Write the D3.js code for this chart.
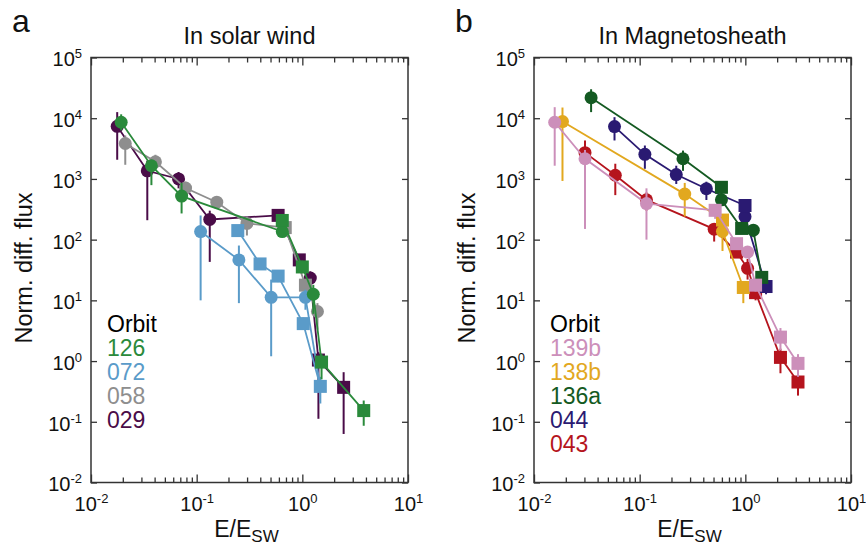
<!DOCTYPE html>
<html>
<head>
<meta charset="utf-8">
<script src="https://cdn.jsdelivr.net/npm/d3@7"></script>
<style>
  body { margin: 0; background: #fff; }
  svg text { font-family: "Liberation Sans", Arial, Helvetica, sans-serif; }
</style>
</head>
<body>
<div id="chart"></div>
<script>
// each point: [E/Esw, flux, err low, err high, marker]  ("o" circle, "s" square, "" none)

// ---- panel a : in solar wind
const o126 = [
  [0.0193, 8580, 6300, 11600, "o"],
  [0.0373, 1650, 790, 2070, "o"],
  [0.072, 521, 270, 860, "o"],
  [0.646, 136, 110, 170, "o"],
  [0.646, 207, 170, 250, "s"],
  [1.0, 35.5, 28, 45, "s"],
  [1.27, 12.6, 6, 18, "o"],
  [1.52, 0.962, 0.5, 1.3, "s"],
  [3.81, 0.153, 0.086, 0.224, "s"]
];
const o072c = [
  [0.109, 136, 10, 250, "o"],
  [0.251, 46.4, 9, 80, "o"],
  [0.507, 11.2, 1.2, 22, "o"],
  [1.07, 11.2, 7, 15, "o"],
  [1.48, 0.383, 0.2, 0.55, ""]
];
const o072s = [
  [0.245, 141, 115, 170, "s"],
  [0.398, 39.8, 32, 48, "s"],
  [0.590, 25.1, 20, 31, "s"],
  [1.02, 4.14, 3.3, 5.2, "s"],
  [1.48, 0.383, 0.2, 0.55, "s"]
];
const o058 = [
  [0.0211, 3830, 1710, 5200, "o"],
  [0.0407, 1920, 1500, 2500, "o"],
  [0.0785, 708, 560, 900, "o"],
  [0.155, 414, 330, 520, "o"],
  [0.299, 185, 117, 240, "o"],
  [0.689, 158, 130, 190, "s"],
  [1.07, 17.8, 14, 22, "s"],
  [1.39, 6.56, 3.3, 9, "o"]
];
const o029 = [
  [0.0177, 7360, 2070, 12600, "o"],
  [0.0341, 1360, 209, 2000, "o"],
  [0.0674, 1000, 700, 1300, "o"],
  [0.133, 215, 43, 300, "o"],
  [0.590, 251, 200, 300, "s"],
  [0.936, 46.4, 37, 58, "s"],
  [1.19, 23.3, 18, 30, "o"],
  [1.42, 1.04, 0.112, 1.4, "s"],
  [2.46, 0.369, 0.063, 0.656, "s"]
];

// ---- panel b : in magnetosheath
const o139b = [
  [0.0157, 8580, 1650, 15200, "o"],
  [0.0304, 2150, 150, 3000, "o"],
  [0.116, 393, 100, 700, "o"],
  [0.518, 304, 220, 380, "s"],
  [0.826, 85.8, 70, 105, "s"],
  [1.05, 62.4, 50, 75, "o"],
  [1.25, 17.8, 14, 22, "s"],
  [2.15, 2.48, 1.5, 3.5, "s"],
  [3.15, 0.916, 0.55, 1.3, "s"]
];
const o138b = [
  [0.0186, 8810, 926, 15000, "o"],
  [0.267, 562, 240, 860, "o"],
  [0.608, 210, 170, 260, "s"],
  [0.608, 137, 65, 180, "o"],
  [0.957, 16.3, 9, 20, "s"]
];
const o136a = [
  [0.0347, 21800, 12600, 30000, "o"],
  [0.257, 2150, 1360, 2930, "o"],
  [0.594, 728, 560, 900, "s"],
  [0.594, 452, 370, 550, "o"],
  [0.923, 153, 125, 185, "s"],
  [1.19, 143, 110, 180, "o"],
  [1.43, 23.9, 19, 30, "s"]
];
const o044 = [
  [0.0578, 7280, 4300, 10400, "o"],
  [0.112, 2540, 1470, 3550, "o"],
  [0.222, 1180, 826, 1650, "o"],
  [0.428, 689, 450, 900, "o"],
  [0.993, 365, 290, 440, "s"],
  [0.993, 239, 190, 300, "o"],
  [1.57, 16.9, 12.6, 22, "s"]
];
const o043 = [
  [0.0304, 2710, 1650, 4300, "o"],
  [0.0588, 1150, 541, 1780, "o"],
  [0.116, 452, 300, 600, "o"],
  [0.507, 149, 93, 185, "o"],
  [0.826, 62.4, 50, 75, "s"],
  [1.05, 33.7, 22, 48, "o"],
  [1.25, 13.4, 10, 17, "s"],
  [2.15, 1.15, 0.63, 1.6, "s"],
  [3.15, 0.452, 0.27, 0.7, "s"]
];

const orbitsA = [
  { name: "126", color: "#2a8a3b", traces: [o126] },
  { name: "072", color: "#5a9bc9", traces: [o072c, o072s] },
  { name: "058", color: "#8e8e8e", traces: [o058] },
  { name: "029", color: "#4a0c48", traces: [o029] }
];
const orbitsB = [
  { name: "139b", color: "#cc8fba", traces: [o139b] },
  { name: "138b", color: "#e2a81f", traces: [o138b] },
  { name: "136a", color: "#145a22", traces: [o136a] },
  { name: "044", color: "#2a1a72", traces: [o044] },
  { name: "043", color: "#b5141d", traces: [o043] }
];

const xMajor = [0.01, 0.1, 1, 10];
const xMinor = [];
[0.01, 0.1, 1].forEach(d => { for (let k = 2; k <= 9; k++) xMinor.push(k * d); });
const yMajor = [0.01, 0.1, 1, 10, 100, 1000, 1e4, 1e5];

const W = 317, H = 425, TOP = 57.5;
const axisColor = "#333";

const svg = d3.select("#chart").append("svg")
  .attr("width", 866)
  .attr("height", 550);

function powLabel(sel) {
  sel.each(function (d) {
    const t = d3.select(this);
    const e = Math.round(Math.log10(d));
    t.text(null);
    t.append("tspan").text("10");
    t.append("tspan").attr("font-size", 13).attr("dy", -8).text(e);
  });
}

function drawPanel(left, letter, title, orbits) {
  const g = svg.append("g").attr("transform", `translate(${left},${TOP})`);

  const x = d3.scaleLog().domain([0.01, 10]).range([0, W]);
  const y = d3.scaleLog().domain([0.01, 1e5]).range([H, 0]);

  // minor ticks top and bottom
  g.append("g").attr("transform", `translate(0,${H})`)
    .call(d3.axisBottom(x).tickValues(xMinor).tickSize(-5).tickSizeOuter(0).tickFormat(""));
  g.append("g")
    .call(d3.axisTop(x).tickValues(xMinor).tickSize(-5).tickSizeOuter(0).tickFormat(""));
  g.append("g")
    .call(d3.axisTop(x).tickValues(xMajor).tickSize(-8).tickSizeOuter(0).tickFormat(""));
  g.append("g").attr("transform", `translate(${W},0)`)
    .call(d3.axisRight(y).tickValues(yMajor).tickSize(-6).tickSizeOuter(0).tickFormat(""));

  const xAxis = g.append("g").attr("transform", `translate(0,${H})`)
    .call(d3.axisBottom(x).tickValues(xMajor).tickSize(-8).tickSizeOuter(0).tickPadding(14));
  xAxis.selectAll(".tick text").call(powLabel);

  const yAxis = g.append("g")
    .call(d3.axisLeft(y).tickValues(yMajor).tickSize(-6).tickSizeOuter(0).tickPadding(9));
  yAxis.selectAll(".tick text").attr("dy", "0.42em").call(powLabel);

  g.selectAll(".domain").remove();
  g.selectAll(".tick line").attr("stroke", axisColor).attr("stroke-width", 1.3);
  g.selectAll(".tick text").attr("font-size", 20).attr("fill", "#111")
    .attr("font-family", '"Liberation Sans", Arial, sans-serif');

  g.append("rect")
    .attr("width", W).attr("height", H)
    .attr("fill", "none")
    .attr("stroke", axisColor)
    .attr("stroke-width", 1.5);

  const line = d3.line()
    .x(d => x(d[0]))
    .y(d => y(d[1]));

  // last orbit in the legend goes at the bottom
  orbits.slice().reverse().forEach(o => {
    const s = g.append("g");
    o.traces.forEach(t => {
      s.append("path").datum(t)
        .attr("d", line)
        .attr("fill", "none")
        .attr("stroke", o.color)
        .attr("stroke-width", 1.8);
    });
    o.traces.forEach(t => {
      s.append("g").selectAll("line")
        .data(t.filter(d => d[4] !== ""))
        .join("line")
        .attr("x1", d => x(d[0]))
        .attr("x2", d => x(d[0]))
        .attr("y1", d => y(d[2]))
        .attr("y2", d => y(d[3]))
        .attr("stroke", o.color)
        .attr("stroke-width", 2);
    });
    o.traces.forEach(t => {
      s.append("g").selectAll("circle")
        .data(t.filter(d => d[4] === "o"))
        .join("circle")
        .attr("cx", d => x(d[0]))
        .attr("cy", d => y(d[1]))
        .attr("r", 6.5)
        .attr("fill", o.color);
      s.append("g").selectAll("rect")
        .data(t.filter(d => d[4] === "s"))
        .join("rect")
        .attr("x", d => x(d[0]) - 6.5)
        .attr("y", d => y(d[1]) - 6.5)
        .attr("width", 13)
        .attr("height", 13)
        .attr("fill", o.color);
    });
  });

  // legend
  const leg = g.append("g").attr("transform", `translate(16,0)`);
  leg.append("text")
    .attr("y", 332 - TOP)
    .attr("font-size", 23)
    .attr("fill", "#000")
    .text("Orbit");
  leg.selectAll("text.entry")
    .data(orbits)
    .join("text")
    .attr("class", "entry")
    .attr("y", (d, i) => 332 - TOP + 24 * (i + 1))
    .attr("font-size", 23)
    .attr("fill", d => d.color)
    .text(d => d.name);

  // titles and labels
  g.append("text")
    .attr("x", W / 2)
    .attr("y", 44 - TOP)
    .attr("text-anchor", "middle")
    .attr("font-size", 23.5)
    .attr("fill", "#111")
    .text(title);

  g.append("text")
    .attr("x", -79)
    .attr("y", 32 - TOP)
    .attr("font-size", 32)
    .attr("fill", "#111")
    .text(letter);

  g.append("text")
    .attr("transform", `translate(-59,${268 - TOP}) rotate(-90)`)
    .attr("text-anchor", "middle")
    .attr("font-size", 23.5)
    .attr("fill", "#111")
    .text("Norm. diff. flux");

  const xl = g.append("text")
    .attr("x", W / 2 - 3)
    .attr("y", 537 - TOP)
    .attr("text-anchor", "middle")
    .attr("font-size", 23)
    .attr("fill", "#111");
  xl.append("tspan").text("E/E");
  xl.append("tspan").attr("font-size", 17).attr("dy", 5).text("SW");
}

drawPanel(91, "a", "In solar wind", orbitsA);
drawPanel(534, "b", "In Magnetosheath", orbitsB);
</script>
</body>
</html>
